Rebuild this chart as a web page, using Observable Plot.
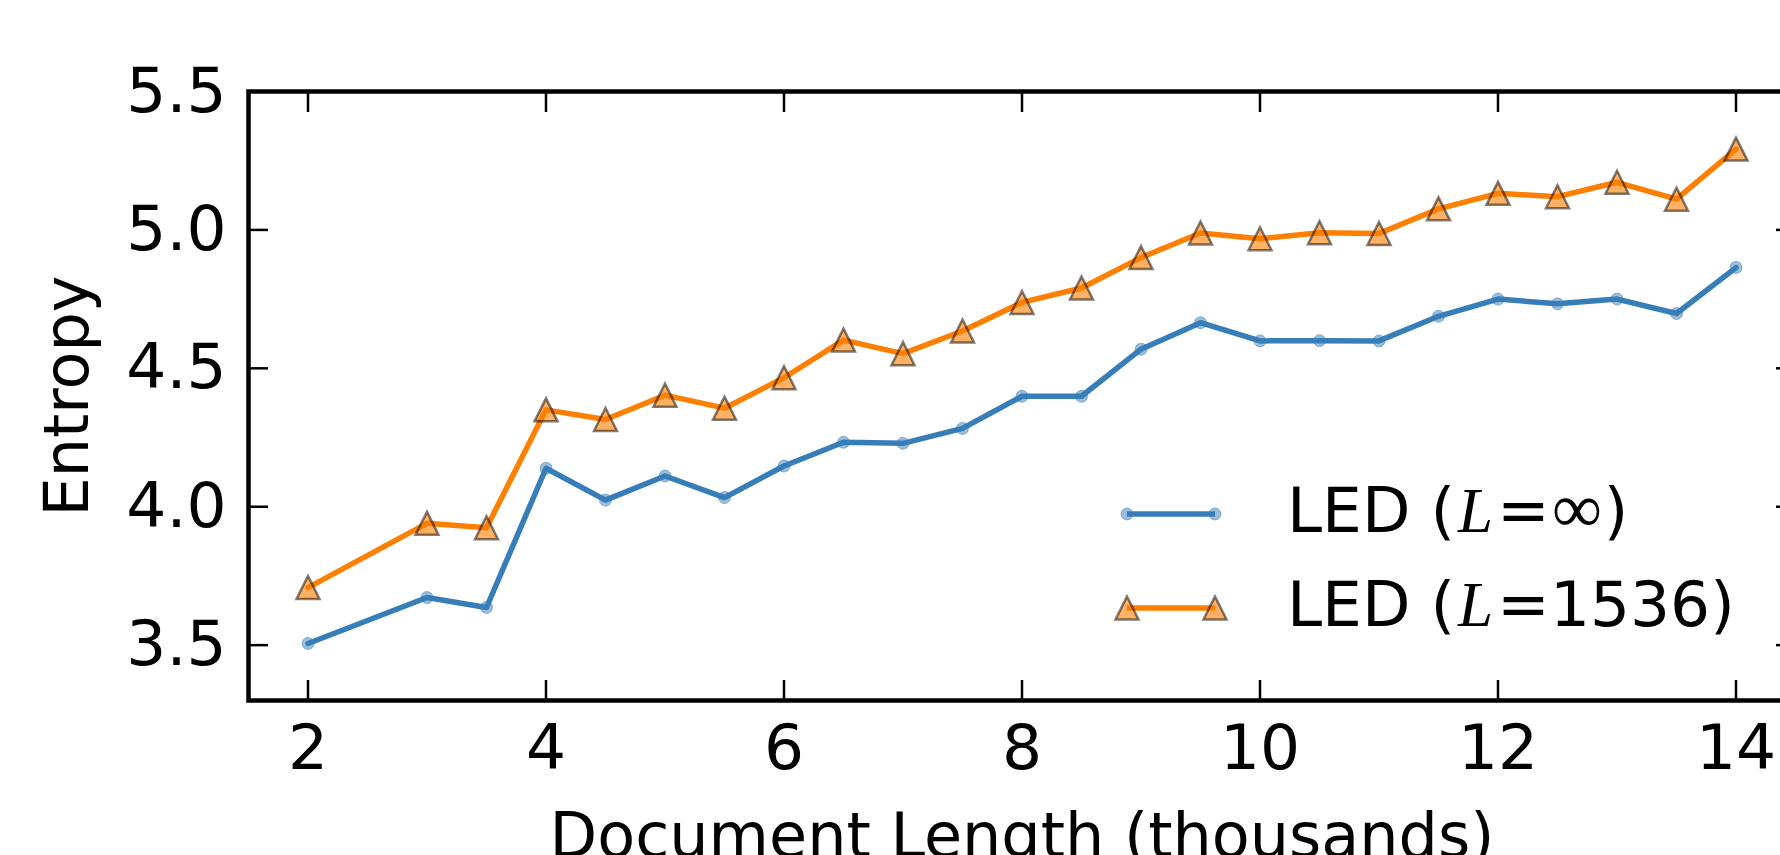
<!DOCTYPE html>
<html><head><meta charset="utf-8">
<script src="https://cdn.jsdelivr.net/npm/d3@7"></script>
<script src="https://cdn.jsdelivr.net/npm/@observablehq/plot@0.6"></script>
<style>
html,body{margin:0;padding:0;background:#fff;overflow:hidden;width:1780px;height:855px}
#wrap{position:relative;width:1780px;height:855px;overflow:hidden}
#wrap svg.plot{position:absolute;left:0;top:0}
#legend{position:absolute;left:0;top:0;pointer-events:none}
</style></head><body><div id="wrap"></div>
<script>
// ---- data ----
const docLength = [2, 3, 3.5, 4, 4.5, 5, 5.5, 6, 6.5, 7, 7.5, 8, 8.5, 9, 9.5, 10, 10.5, 11, 11.5, 12, 12.5, 13, 13.5, 14];
const entropyInf = [3.506, 3.672, 3.636, 4.139, 4.024, 4.111, 4.033, 4.147, 4.233, 4.229, 4.283, 4.399, 4.399, 4.569, 4.665, 4.599, 4.600, 4.599, 4.688, 4.750, 4.733, 4.750, 4.698, 4.864];
const entropy1536 = [3.708, 3.940, 3.924, 4.350, 4.315, 4.403, 4.356, 4.466, 4.602, 4.553, 4.635, 4.738, 4.790, 4.900, 4.989, 4.968, 4.990, 4.987, 5.076, 5.132, 5.120, 5.172, 5.111, 5.292];
const seriesNames = ["LED (L=∞)", "LED (L=1536)"];
const xTicks = [2, 4, 6, 8, 10, 12, 14];
const yTicks = [3.5, 4.0, 4.5, 5.0, 5.5];
const xLabel = "Document Length (thousands)";
const yLabel = "Entropy";

const blue = "#377eb8", orange = "#ff7f00";
const rowsInf = docLength.map((x, i) => ({x, y: entropyInf[i], series: seriesNames[0]}));
const rows1536 = docLength.map((x, i) => ({x, y: entropy1536[i], series: seriesNames[1]}));

// matplotlib-like '^' marker (isosceles, bbox-centred)
const triUp = {draw(ctx, size) { const r = Math.sqrt(size / Math.PI); ctx.moveTo(0, -r); ctx.lineTo(r, r); ctx.lineTo(-r, r); ctx.closePath(); }};

const font = "DejaVu Sans";
const plot = Plot.plot({
  width: 1800, height: 900,
  marginLeft: 248, marginRight: 5, marginTop: 91, marginBottom: 200,
  style: {fontFamily: font, fontSize: "63px", color: "#000", background: "#fff", maxWidth: "none", overflow: "visible"},
  x: {domain: [1.5, 14.5]},
  y: {domain: [3.3, 5.5]},
  marks: [
    Plot.lineY(rowsInf, {x: "x", y: "y", stroke: blue, strokeWidth: 5.5}),
    Plot.dot(rowsInf, {x: "x", y: "y", r: 6, fill: blue, fillOpacity: 0.5, stroke: blue, strokeOpacity: 0.5, strokeWidth: 1}),
    Plot.lineY(rows1536, {x: "x", y: "y", stroke: orange, strokeWidth: 5.5}),
    Plot.dot(rows1536, {x: "x", y: "y", symbol: triUp, r: 11.5, fill: orange, fillOpacity: 0.6, stroke: "#000", strokeOpacity: 0.5, strokeWidth: 2.5}),
    Plot.frame({stroke: "#000", strokeWidth: 4.5}),
    Plot.axisX(xTicks, {anchor: "bottom", tickSize: -20, tickPadding: 44, strokeWidth: 2.5, fontSize: 63, label: null, tickFormat: d3.format("d")}),
    Plot.axisX(xTicks, {anchor: "top", tickSize: -20, strokeWidth: 2.5, label: null, tickFormat: () => ""}),
    Plot.axisY(yTicks, {anchor: "left", tickSize: -20, tickPadding: 42, strokeWidth: 2.5, fontSize: 63, label: null, tickFormat: d3.format(".1f")}),
    Plot.axisY(yTicks, {anchor: "right", tickSize: -20, strokeWidth: 2.5, label: null, tickFormat: () => ""}),
    Plot.text([xLabel], {text: d => d, frameAnchor: "bottom", dy: 112, lineAnchor: "top", textAnchor: "middle", fontSize: 62}),
    Plot.text([yLabel], {text: d => d, frameAnchor: "left", dx: -205, rotate: -90, lineAnchor: "top", textAnchor: "middle", fontSize: 62})
  ]
});
document.getElementById("wrap").appendChild(plot);

// ---- legend (matplotlib style, no frame) ----
const lg = d3.select("#wrap").append("svg").attr("id", "legend").attr("width", 1780).attr("height", 855);
const legendRows = [
  {name: seriesNames[0], color: blue, kind: "dot", cy: 514, base: 532},
  {name: seriesNames[1], color: orange, kind: "tri", cy: 608, base: 626}
];
legendRows.forEach(r => {
  lg.append("line").attr("x1", 1127).attr("x2", 1215).attr("y1", r.cy).attr("y2", r.cy)
    .attr("stroke", r.color).attr("stroke-width", 5.5);
  [1127, 1215].forEach(cx => {
    if (r.kind === "dot") {
      lg.append("circle").attr("cx", cx).attr("cy", r.cy).attr("r", 6)
        .attr("fill", r.color).attr("fill-opacity", 0.5).attr("stroke", r.color).attr("stroke-opacity", 0.5);
    } else {
      lg.append("path").attr("d", `M${cx},${r.cy - 11.5}L${cx + 11.5},${r.cy + 11.5}L${cx - 11.5},${r.cy + 11.5}Z`)
        .attr("fill", r.color).attr("fill-opacity", 0.6).attr("stroke", "#000").attr("stroke-opacity", 0.5).attr("stroke-width", 2.5);
    }
  });
  const t = lg.append("text").attr("x", 1287).attr("y", r.base).attr("font-family", font).attr("font-size", 63).attr("fill", "#000");
  t.append("tspan").text("LED (");
  t.append("tspan").attr("font-family", "Liberation Serif").attr("font-style", "italic").attr("dx", 3).text("L");
  t.append("tspan").attr("dx", 4).text("=");
  if (r.kind === "dot") {
    t.append("tspan").attr("font-family", "Liberation Serif").attr("font-size", 70).attr("dx", 2).text("∞");
    t.append("tspan").attr("dx", 2).text(")");
  } else {
    t.append("tspan").text("1536)");
  }
});
</script></body></html>
